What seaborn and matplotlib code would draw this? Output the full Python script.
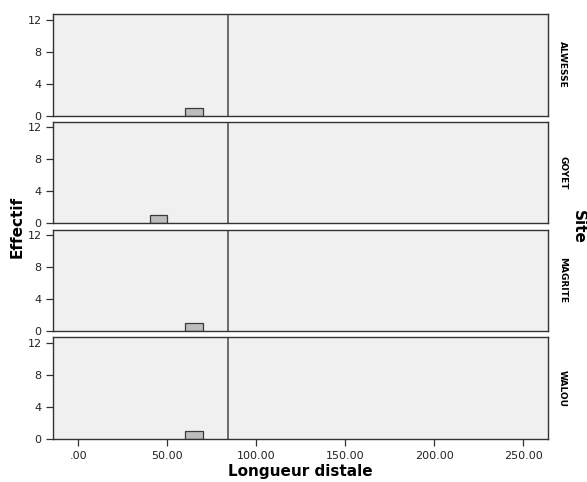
import matplotlib
matplotlib.use("Agg")
import matplotlib.pyplot as plt
import numpy as np
import pandas as pd
import seaborn as sns

# --- Data ---
SITES = ["ALWESSE", "GOYET", "MAGRITE", "WALOU"]
LENGTHS = [65.0, 45.0, 65.0, 65.0]   # one specimen per site
REF_LINE = 84.0                      # vertical reference line
X_TICKS = [0, 50, 100, 150, 200, 250]
X_TICK_LABELS = [".00", "50.00", "100.00", "150.00", "200.00", "250.00"]
Y_TICKS = [0, 4, 8, 12]

df = pd.DataFrame({"Site": SITES, "Longueur distale": LENGTHS})

sns.set_theme(style="ticks")
plt.rcParams["font.family"] = ["DejaVu Sans"]
plt.rcParams["text.color"] = "black"

g = sns.FacetGrid(df, row="Site", row_order=SITES, height=1.0, aspect=4.9,
                  sharex=True, sharey=True, margin_titles=True, despine=False)
g.map_dataframe(sns.histplot, x="Longueur distale", binwidth=10, binrange=(0, 260),
                color="#BDBDBD", edgecolor="#3a3a3a", linewidth=0.9, alpha=1)

g.set_titles(row_template="{row_name}", col_template="", size=6.5,
             fontweight="bold", color="black")

n = len(g.axes.flat)
for i, ax in enumerate(g.axes.flat):
    # drop the empty bins so only the real bars remain
    for p in list(ax.patches):
        if p.get_height() == 0:
            p.remove()
    ax.set_facecolor("#F0F0F0")
    ax.axvline(REF_LINE, color="#555555", linewidth=1.2)
    ax.set_xlim(-14, 264)
    ax.set_ylim(0, 12.7)
    ax.set_yticks(Y_TICKS)
    ax.set_yticklabels([str(t) for t in Y_TICKS])
    ax.set_xticks(X_TICKS)
    ax.set_xticklabels(X_TICK_LABELS)
    ax.tick_params(axis="both", labelsize=8, colors="#333333", length=5, width=0.9)
    ax.tick_params(axis="both", labelcolor="#222222")
    if i < n - 1:
        ax.tick_params(axis="x", bottom=False, labelbottom=False)
    ax.set_xlabel("")
    ax.set_ylabel("")
    for side, sp in ax.spines.items():
        sp.set_color("#333333")
        sp.set_linewidth(1.0)

fig = g.figure
fig.set_size_inches(5.87, 4.82)
fig.subplots_adjust(left=0.091, right=0.934, top=0.971, bottom=0.089, hspace=0.06)

fig.text(0.029, 0.53, "Effectif", rotation=90, ha="center", va="center",
         fontsize=11, fontweight="bold", color="black")
fig.text(0.986, 0.53, "Site", rotation=270, ha="center", va="center",
         fontsize=11, fontweight="bold", color="black")
fig.text(0.512, 0.022, "Longueur distale", ha="center", va="center",
         fontsize=11, fontweight="bold", color="black")

fig.savefig("out.png", dpi=100)
plt.close(fig)
